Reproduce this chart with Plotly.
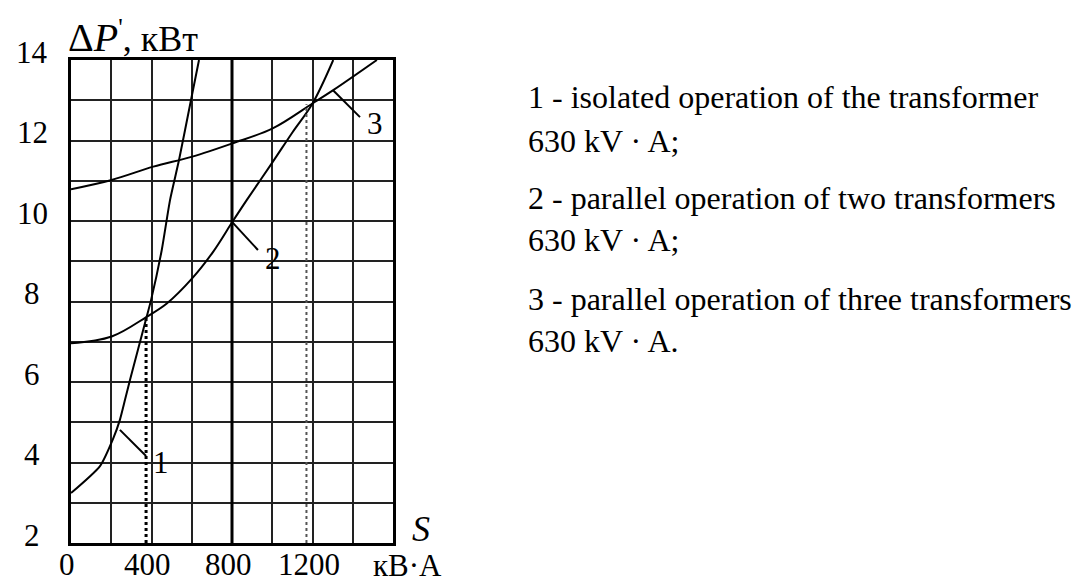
import plotly.graph_objects as go

# Loss curves ΔP'(S) for 630 kV·A transformers
s_single = [0, 144, 210, 243, 268, 293, 376, 398, 451, 492, 537, 596, 636]
p_single = [3.24, 3.91, 4.60, 5.06, 5.55, 6.05, 7.62, 8.04, 9.28, 10.52, 11.52, 13.0, 14.0]

s_two = [0, 202, 376, 476, 603, 707, 802, 873, 1000, 1100, 1200, 1303]
p_two = [6.96, 7.13, 7.62, 7.95, 8.58, 9.24, 9.98, 10.52, 11.45, 12.2, 12.92, 14.0]

s_three = [0, 202, 409, 603, 802, 1002, 1200, 1303, 1520]
p_three = [10.79, 11.02, 11.35, 11.6, 11.93, 12.3, 12.92, 13.25, 14.0]

# switching points (dotted drop lines)
drop_s = [373, 1170]
drop_p = [7.62, 12.9]

# curve numbers with their leader lines
callout_ids = ["1", "2", "3"]
leader_from = [(243, 4.81), (800, 9.98), (1302, 13.25)]
leader_to = [(373, 4.16), (929, 9.28), (1436, 12.58)]
label_at = [(447, 4.01), (1004, 9.08), (1511, 12.43)]

x_ticks = [0, 400, 800, 1200]
y_ticks = [2, 4, 6, 8, 10, 12, 14]

notes = [
    "1 - isolated operation of the transformer",
    "630 kV · A;",
    "2 - parallel operation of two transformers",
    "630 kV · A;",
    "3 - parallel operation of three transformers",
    "630 kV · A.",
]
note_rows = [97, 141, 198, 240, 299, 341]

W, H = 1075, 582
ML, MR, MT, MB = 71, 682, 60, 39
PW, PH = W - ML - MR, H - MT - MB
SERIF = "Liberation Serif, Times New Roman, serif"


def px(x):
    return (x - ML) / PW


def py(y):
    return (H - MB - y) / PH


def label(**kw):
    base = dict(showarrow=False, xanchor="center", yanchor="middle")
    base.update(kw)
    return base


def serif(size):
    return dict(family=SERIF, size=size, color="black")


fig = go.Figure()
series = [(s_single, p_single, 0.6), (s_two, p_two, 1.0), (s_three, p_three, 1.0)]
for s, p, sm in series:
    fig.add_trace(go.Scatter(x=s, y=p, mode="lines",
                             line=dict(color="black", width=2, shape="spline", smoothing=sm),
                             hoverinfo="skip", showlegend=False))

# dotted drop lines
fig.add_trace(go.Scatter(x=[drop_s[0], drop_s[0]], y=[2, drop_p[0]], mode="lines",
                         line=dict(color="black", width=3, dash="dot"),
                         showlegend=False, hoverinfo="skip"))
fig.add_trace(go.Scatter(x=[drop_s[1], drop_s[1]], y=[2, drop_p[1]], mode="lines",
                         line=dict(color="#555", width=2, dash="dot"),
                         showlegend=False, hoverinfo="skip"))

# leader lines
for (x0, y0), (x1, y1) in zip(leader_from, leader_to):
    fig.add_trace(go.Scatter(x=[x0, x1], y=[y0, y1], mode="lines",
                             line=dict(color="black", width=2),
                             showlegend=False, hoverinfo="skip"))

# heavier vertical at 800
fig.add_shape(type="line", x0=800, x1=800, y0=2, y1=14, xref="x", yref="y",
              line=dict(color="black", width=3))

ann = []
for cid, (lx, ly) in zip(callout_ids, label_at):
    ann.append(label(x=lx, y=ly, xref="x", yref="y", text=cid, font=serif(31)))

for v in x_ticks:
    ann.append(label(x=v, y=py(564), xref="x", yref="paper", text=str(v), xshift=-4,
                     height=26, font=serif(31)))
for v in y_ticks:
    ann.append(label(x=px(32), y=v, xref="paper", yref="y", text=str(v), yshift=8,
                     font=serif(31)))

ann.append(label(x=px(66), y=py(37), xref="paper", yref="paper", xanchor="left",
                 text="<span style='font-size:40px'>Δ<i>P</i></span><sup>'</sup>, кВт",
                 font=serif(36)))
ann.append(label(x=px(421), y=py(529), xref="paper", yref="paper",
                 text="<i>S</i>", font=serif(36)))
ann.append(label(x=px(407), y=py(565), xref="paper", yref="paper",
                 text="кВ·А", height=26, font=serif(31)))

for txt, row in zip(notes, note_rows):
    ann.append(label(x=px(526), y=py(row), xref="paper", yref="paper", xanchor="left",
                     text=txt, font=serif(32)))

axis_common = dict(showgrid=True, gridcolor="#222", gridwidth=2, zeroline=False,
                   showline=True, mirror=True, linecolor="black", linewidth=3,
                   showticklabels=False, ticks="", fixedrange=True)

fig.update_layout(
    width=W, height=H,
    margin=dict(l=ML, r=MR, t=MT, b=MB),
    paper_bgcolor="white", plot_bgcolor="white",
    xaxis=dict(range=[0, 1600], tick0=0, dtick=200, **axis_common),
    yaxis=dict(range=[2, 14], tick0=2, dtick=1, **axis_common),
    annotations=ann,
    showlegend=False,
)

fig.write_html("out.html", config={"displayModeBar": False})
